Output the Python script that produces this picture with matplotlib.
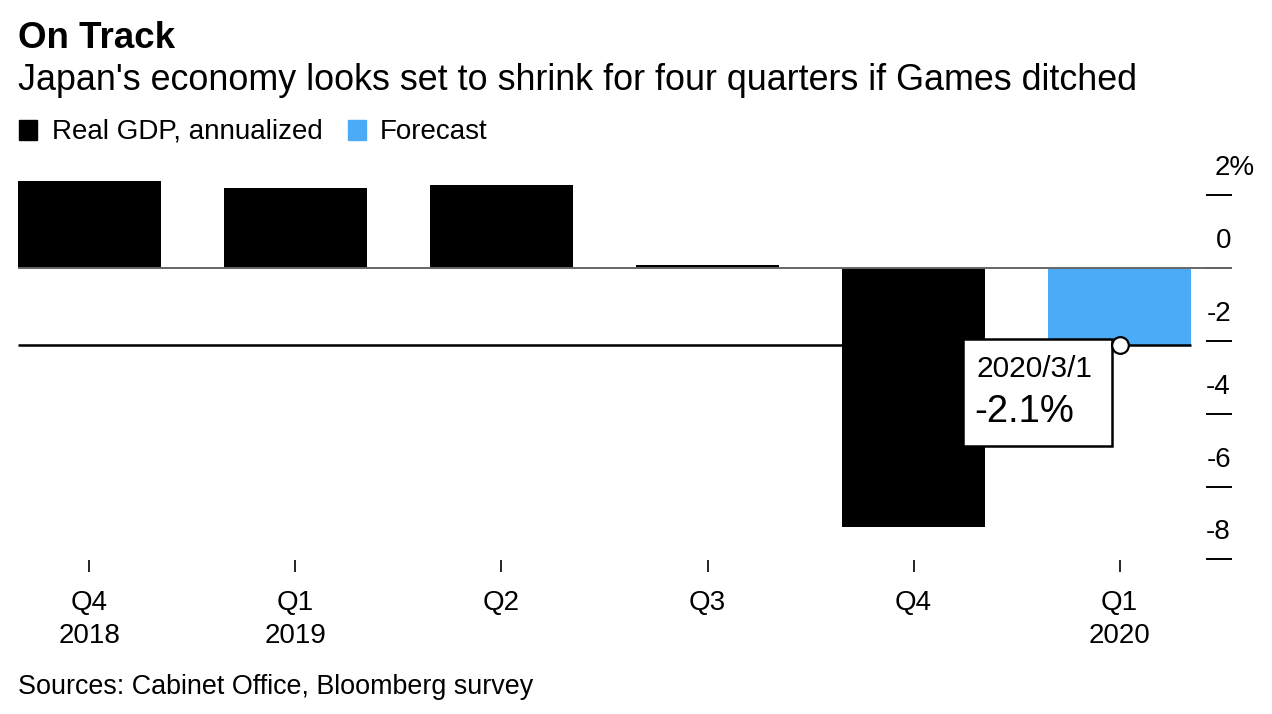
import matplotlib
matplotlib.use("Agg")
import matplotlib.pyplot as plt
from matplotlib.patches import Rectangle
from matplotlib.transforms import IdentityTransform, ScaledTranslation

plt.rcParams["font.family"] = ["Liberation Sans", "DejaVu Sans"]

# data
quarters = ["Q4\n2018", "Q1\n2019", "Q2", "Q3", "Q4", "Q1\n2020"]
gdp = [2.4, 2.2, 2.3, 0.1, -7.1, None]      # real GDP, annualized (%)
forecast = [None, None, None, None, None, -2.1]
yticks = [2, 0, -2, -4, -6, -8]
ytick_labels = ["2%", "0", "-2", "-4", "-6", "-8"]
note_date = "2020/3/1"

BLACK = "#000000"
BLUE = "#4babf7"
W, H = 1272, 714

fig = plt.figure(figsize=(W / 100, H / 100), dpi=100)


def fx(px):
    return px / W


def fy(py):
    return 1 - py / H


# plot area in pixels: x 18..1232, y 160..572
ax = fig.add_axes([fx(18), fy(572), fx(1232 - 18), (572 - 160) / H])

xs = list(range(len(quarters)))
bw = 0.694
ax.bar([x for x, v in zip(xs, gdp) if v is not None],
       [v for v in gdp if v is not None], width=bw, color=BLACK, zorder=2)
ax.bar([x for x, v in zip(xs, forecast) if v is not None],
       [v for v in forecast if v is not None], width=bw, color=BLUE, zorder=2)

x_left = xs[0] - bw / 2
x_last = xs[-1] + bw / 2
ax.set_xlim(x_left, x_last + 41 / 206)
ax.set_ylim(-8.35, 2.975)

# zero line and forecast reference line
ax.axhline(0, color="#666666", lw=1.4, zorder=3)
fval = forecast[-1]
ax.plot([x_left, x_last], [fval, fval], color=BLACK, lw=1.8, zorder=3,
        solid_capstyle="butt")

# right-hand ticks drawn as short dashes with labels above
tx0 = x_last + 16 / 206
tx1 = x_last + 40 / 206
for v, lab in zip(yticks, ytick_labels):
    ax.plot([tx0, tx1], [v, v], color=BLACK, lw=1.4, clip_on=False)
    if lab.endswith("%"):
        ax.annotate(lab, xy=(tx0 + 8 / 206, v), xytext=(0, 27),
                    textcoords="offset pixels", ha="left", va="center",
                    fontsize=20, annotation_clip=False)
    else:
        ax.annotate(lab, xy=(tx1, v), xytext=(0, 27),
                    textcoords="offset pixels", ha="right", va="center",
                    fontsize=20, annotation_clip=False)

ax.set_yticks([])
ax.set_xticks(xs)
ax.set_xticklabels(quarters, fontsize=20, linespacing=1.35)
ax.tick_params(axis="x", direction="in", length=8.6, width=1.2,
               color=BLACK, pad=13)
for s in ax.spines.values():
    s.set_visible(False)

# annotation box at the forecast point
pt = ScaledTranslation(xs[-1], fval, ax.transData)
box = Rectangle((-157, -101), 149, 107, transform=IdentityTransform() + pt,
                facecolor="white", edgecolor=BLACK, lw=1.8, zorder=5)
ax.add_patch(box)
ax.annotate(note_date, xy=(xs[-1], fval), xytext=(-143, -24),
            textcoords="offset pixels", ha="left", va="center",
            fontsize=21.5, zorder=6)
ax.annotate(f"{fval}%", xy=(xs[-1], fval), xytext=(-145, -67),
            textcoords="offset pixels", ha="left", va="center",
            fontsize=27.5, zorder=6)
ax.plot([xs[-1]], [fval], marker="o", ms=12, mfc="white", mec=BLACK,
        mew=1.6, zorder=7, clip_on=False)

# titles
fig.text(fx(18), fy(39), "On Track", fontsize=26.5, fontweight="bold",
         va="center", ha="left")
fig.text(fx(18), fy(81), "Japan's economy looks set to shrink for four quarters if Games ditched",
         fontsize=25.8, va="center", ha="left")

# legend
fig.patches.append(Rectangle((fx(19), fy(140)), fx(18), 20 / H,
                             transform=fig.transFigure, color=BLACK))
fig.text(fx(52), fy(132), "Real GDP, annualized", fontsize=20,
         va="center", ha="left")
fig.patches.append(Rectangle((fx(348), fy(140)), fx(18), 20 / H,
                             transform=fig.transFigure, color=BLUE))
fig.text(fx(380), fy(132), "Forecast", fontsize=20, va="center", ha="left")

fig.text(fx(18), fy(687), "Sources: Cabinet Office, Bloomberg survey",
         fontsize=19.4, va="center", ha="left")

fig.savefig("out.png", dpi=100)
